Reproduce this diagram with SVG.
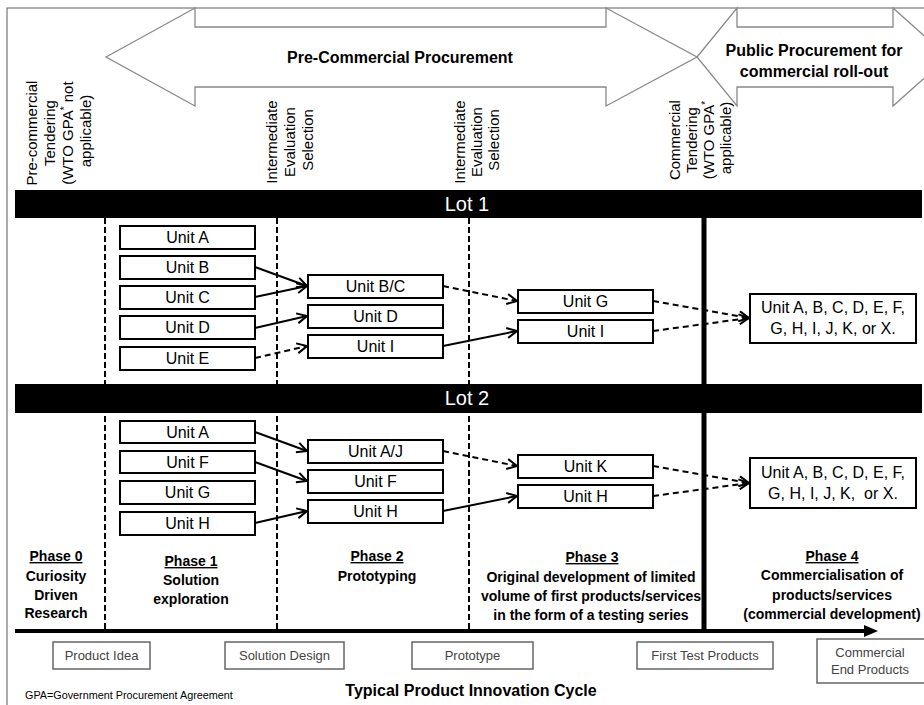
<svg xmlns="http://www.w3.org/2000/svg" width="924" height="705" viewBox="0 0 924 705">
  <defs>
    <style>
      text { font-family: "Liberation Sans", Arial, sans-serif; fill: #000; }
      .frame { fill: #fff; stroke: #777; stroke-width: 1.2; }
      .big-arrow { fill: #fff; stroke: #888; stroke-width: 1.3; }
      .banner { font-size: 16px; font-weight: bold; text-anchor: middle; }
      .rot { font-size: 15px; text-anchor: middle; }
      .lot-bar { fill: #000; }
      .lot-label { font-size: 20px; fill: #fff; text-anchor: middle; }
      .stage { fill: none; stroke: #000; stroke-width: 2; stroke-dasharray: 6 3; }
      .gate { fill: none; stroke: #000; stroke-width: 5; }
      .unit rect { fill: #fff; stroke: #000; stroke-width: 2; }
      .unit text { font-size: 16px; text-anchor: middle; }
      .link { fill: none; stroke: #000; stroke-width: 2; marker-end: url(#chev); }
      .dash { stroke-dasharray: 6 4; }
      .phase { font-size: 14px; font-weight: bold; text-anchor: middle; }
      .phase .hd { text-decoration: underline; }
      .axis { stroke: #000; stroke-width: 4; }
      .step rect { fill: #fff; stroke: #666; stroke-width: 1.5; }
      .step text { font-size: 13px; fill: #444; text-anchor: middle; }
    </style>
    <marker id="chev" viewBox="0 0 12 12" refX="11" refY="6" markerWidth="12" markerHeight="12" markerUnits="userSpaceOnUse" orient="auto">
      <path d="M1,1 L11,6 L1,11" fill="none" stroke="#000" stroke-width="2"/>
    </marker>
  </defs>

  <!-- outer frame -->
  <rect class="frame" x="7" y="8" width="930" height="710"/>

  <!-- procurement banners -->
  <g id="pcp-banner">
    <polygon class="big-arrow" points="106,57 195,8 195,27 606,27 606,8 697,57 606,106 606,87 195,87 195,106"/>
    <text class="banner" x="400" y="63">Pre-Commercial Procurement</text>
  </g>
  <g id="public-banner">
    <polygon class="big-arrow" points="697,57 737,8 737,27 893,27 893,8 948,57 893,106 893,87 737,87 737,106"/>
    <text class="banner" x="814" y="56">Public Procurement for</text>
    <text class="banner" x="814" y="77">commercial roll-out</text>
  </g>

  <!-- tendering / selection gates (rotated labels) -->
  <g id="gate-labels">
    <text class="rot" transform="rotate(-90)">
      <tspan x="-131" y="37">Pre-commercial</tspan>
      <tspan x="-131" y="55">Tendering</tspan>
      <tspan x="-131" y="73">(WTO GPA<tspan font-size="10" baseline-shift="super">*</tspan> not</tspan>
      <tspan x="-131" y="91">applicable)</tspan>
    </text>
    <text class="rot" transform="rotate(-90)">
      <tspan x="-140" y="277">Intermediate</tspan>
      <tspan x="-140" y="295">Evaluation</tspan>
      <tspan x="-140" y="313">Selection</tspan>
    </text>
    <text class="rot" transform="rotate(-90)">
      <tspan x="-140" y="465">Intermediate</tspan>
      <tspan x="-140" y="482">Evaluation</tspan>
      <tspan x="-140" y="499">Selection</tspan>
    </text>
    <text class="rot" transform="rotate(-90)">
      <tspan x="-138" y="680">Commercial</tspan>
      <tspan x="-138" y="697">Tendering</tspan>
      <tspan x="-138" y="714">(WTO GPA<tspan font-size="10" baseline-shift="super">*</tspan></tspan>
      <tspan x="-138" y="731">applicable)</tspan>
    </text>
  </g>

  <!-- phase separators -->
  <g id="separators">
    <line class="stage" x1="105" y1="218" x2="105" y2="629"/>
    <line class="stage" x1="277" y1="218" x2="277" y2="629"/>
    <line class="stage" x1="469" y1="218" x2="469" y2="629"/>
    <line class="gate" x1="704" y1="218" x2="704" y2="631"/>
  </g>

  <!-- lot bars -->
  <g id="lot1">
    <rect class="lot-bar" x="15" y="190" width="907" height="28"/>
    <text class="lot-label" x="467" y="211">Lot 1</text>
  </g>
  <g id="lot2">
    <rect class="lot-bar" x="15" y="384" width="907" height="29"/>
    <text class="lot-label" x="467" y="405">Lot 2</text>
  </g>

  <!-- connectors -->
  <g id="connectors">
    <!-- lot 1 -->
    <line class="link" x1="255" y1="267" x2="307" y2="286"/>
    <line class="link" x1="255" y1="297" x2="307" y2="286"/>
    <line class="link" x1="255" y1="328" x2="307" y2="316"/>
    <line class="link dash" x1="255" y1="358" x2="307" y2="346"/>
    <line class="link dash" x1="443" y1="286" x2="517" y2="301"/>
    <line class="link" x1="443" y1="346" x2="517" y2="331"/>
    <line class="link dash" x1="653" y1="301" x2="749" y2="318"/>
    <line class="link dash" x1="653" y1="331" x2="749" y2="318"/>
    <!-- lot 2 -->
    <line class="link" x1="255" y1="432" x2="307" y2="451"/>
    <line class="link" x1="255" y1="462" x2="307" y2="481"/>
    <line class="link" x1="255" y1="523" x2="307" y2="511"/>
    <line class="link dash" x1="443" y1="451" x2="517" y2="466"/>
    <line class="link" x1="443" y1="511" x2="517" y2="496"/>
    <line class="link dash" x1="653" y1="466" x2="749" y2="483"/>
    <line class="link dash" x1="653" y1="496" x2="749" y2="483"/>
  </g>

  <!-- lot 1 units -->
  <g id="l1-a" class="unit"><rect x="120" y="226" width="135" height="23"/><text x="187.5" y="243">Unit A</text></g>
  <g id="l1-b" class="unit"><rect x="120" y="256" width="135" height="23"/><text x="187.5" y="273">Unit B</text></g>
  <g id="l1-c" class="unit"><rect x="120" y="286" width="135" height="23"/><text x="187.5" y="303">Unit C</text></g>
  <g id="l1-d" class="unit"><rect x="120" y="316" width="135" height="23"/><text x="187.5" y="333">Unit D</text></g>
  <g id="l1-e" class="unit"><rect x="120" y="347" width="135" height="23"/><text x="187.5" y="364">Unit E</text></g>
  <g id="l1-bc" class="unit"><rect x="308" y="275" width="135" height="23"/><text x="375.5" y="292">Unit B/C</text></g>
  <g id="l1-d2" class="unit"><rect x="308" y="305" width="135" height="23"/><text x="375.5" y="322">Unit D</text></g>
  <g id="l1-i" class="unit"><rect x="308" y="335" width="135" height="23"/><text x="375.5" y="352">Unit I</text></g>
  <g id="l1-g3" class="unit"><rect x="518" y="290" width="135" height="23"/><text x="585.5" y="307">Unit G</text></g>
  <g id="l1-i3" class="unit"><rect x="518" y="320" width="135" height="23"/><text x="585.5" y="337">Unit I</text></g>
  <g id="l1-final" class="unit"><rect x="750" y="294" width="166" height="49"/>
    <text x="833" y="313" font-size="15.5">Unit A, B, C, D, E, F,</text>
    <text x="833" y="334" font-size="15.5">G, H, I, J, K, or X.</text>
  </g>

  <!-- lot 2 units -->
  <g id="l2-a" class="unit"><rect x="120" y="421" width="135" height="22"/><text x="187.5" y="438">Unit A</text></g>
  <g id="l2-f" class="unit"><rect x="120" y="451" width="135" height="22"/><text x="187.5" y="468">Unit F</text></g>
  <g id="l2-g" class="unit"><rect x="120" y="481" width="135" height="23"/><text x="187.5" y="498">Unit G</text></g>
  <g id="l2-h" class="unit"><rect x="120" y="512" width="135" height="23"/><text x="187.5" y="529">Unit H</text></g>
  <g id="l2-aj" class="unit"><rect x="308" y="440" width="135" height="23"/><text x="375.5" y="457">Unit A/J</text></g>
  <g id="l2-f2" class="unit"><rect x="308" y="470" width="135" height="23"/><text x="375.5" y="487">Unit F</text></g>
  <g id="l2-h2" class="unit"><rect x="308" y="500" width="135" height="23"/><text x="375.5" y="517">Unit H</text></g>
  <g id="l2-k3" class="unit"><rect x="518" y="455" width="135" height="23"/><text x="585.5" y="472">Unit K</text></g>
  <g id="l2-h3" class="unit"><rect x="518" y="485" width="135" height="23"/><text x="585.5" y="502">Unit H</text></g>
  <g id="l2-final" class="unit"><rect x="750" y="458" width="166" height="50"/>
    <text x="833" y="478" font-size="15.5">Unit A, B, C, D, E, F,</text>
    <text x="833" y="499" font-size="15.5" xml:space="preserve">G, H, I, J, K,  or X.</text>
  </g>

  <!-- phase captions -->
  <g id="phase0" class="phase">
    <text class="hd" x="56" y="561">Phase 0</text>
    <text x="56" y="581">Curiosity</text>
    <text x="56" y="600">Driven</text>
    <text x="56" y="618">Research</text>
  </g>
  <g id="phase1" class="phase">
    <text class="hd" x="191" y="566">Phase 1</text>
    <text x="191" y="585">Solution</text>
    <text x="191" y="604">exploration</text>
  </g>
  <g id="phase2" class="phase">
    <text class="hd" x="377" y="561">Phase 2</text>
    <text x="377" y="581">Prototyping</text>
  </g>
  <g id="phase3" class="phase">
    <text class="hd" x="592" y="562">Phase 3</text>
    <text x="591" y="582">Original development of limited</text>
    <text x="591" y="601">volume of first products/services</text>
    <text x="591" y="620">in the form of a testing series</text>
  </g>
  <g id="phase4" class="phase">
    <text class="hd" x="832" y="561">Phase 4</text>
    <text x="832" y="580">Commercialisation of</text>
    <text x="832" y="600">products/services</text>
    <text x="832" y="619">(commercial development)</text>
  </g>

  <!-- innovation cycle axis -->
  <g id="axis">
    <line class="axis" x1="15" y1="631" x2="866" y2="631"/>
    <polygon points="864,625 878,631 864,637" fill="#000"/>
  </g>

  <!-- innovation cycle steps -->
  <g id="step-idea" class="step"><rect x="53" y="642" width="97" height="27"/><text x="101.5" y="660">Product Idea</text></g>
  <g id="step-design" class="step"><rect x="225" y="642" width="119" height="27"/><text x="284.5" y="660">Solution Design</text></g>
  <g id="step-proto" class="step"><rect x="412" y="642" width="121" height="27"/><text x="472.5" y="660">Prototype</text></g>
  <g id="step-test" class="step"><rect x="637" y="642" width="136" height="27"/><text x="705" y="660">First Test Products</text></g>
  <g id="step-end" class="step"><rect x="817" y="639" width="120" height="44"/>
    <text x="870" y="657">Commercial</text>
    <text x="870" y="674">End Products</text>
  </g>

  <text x="471" y="696" font-size="16" font-weight="bold" text-anchor="middle">Typical Product Innovation Cycle</text>
  <text x="25" y="699" font-size="10.8" fill="#333">GPA=Government Procurement Agreement</text>
</svg>
